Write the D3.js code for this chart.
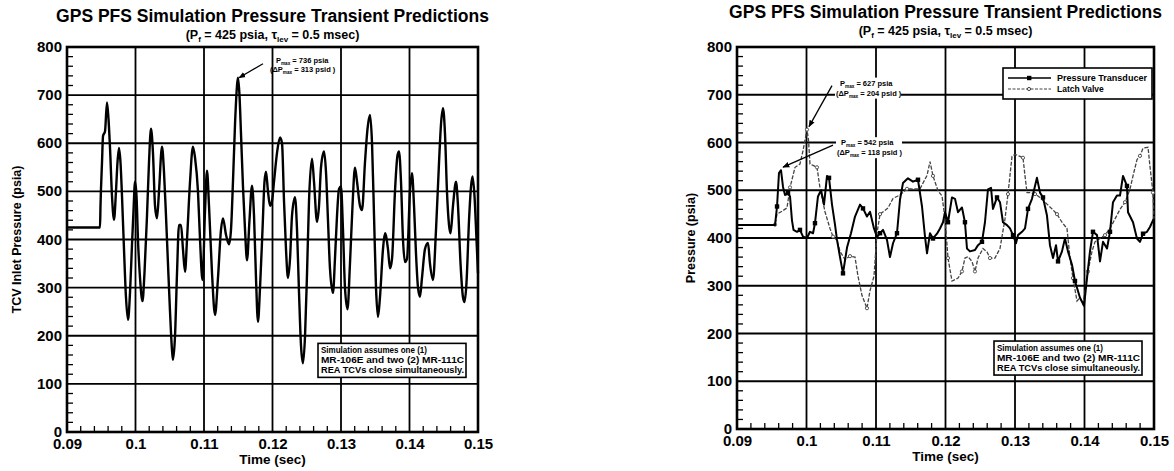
<!DOCTYPE html>
<html lang="en">
<head>
<meta charset="utf-8">
<script src="https://cdn.jsdelivr.net/npm/d3@7/dist/d3.min.js"></script>
<style>
body { margin: 0; background: #fff; }
svg text { font-family: "Liberation Sans", Arial, Helvetica, sans-serif; font-weight: bold; fill: #000; }
</style>
</head>
<body>
<script>

// shared axes
var xTicks = [0.09, 0.10, 0.11, 0.12, 0.13, 0.14, 0.15];
var xTickLabels = ["0.09", "0.1", "0.11", "0.12", "0.13", "0.14", "0.15"];
var yTicks = [0, 100, 200, 300, 400, 500, 600, 700, 800];

// left chart: simulated TCV inlet pressure (sec, psia)
var simTime = [
  0.09000, 0.09482, 0.09489, 0.09511, 0.09526, 0.09555, 0.09584, 0.09606, 0.09628, 0.09657,
  0.09686, 0.09715, 0.09737, 0.09759, 0.09781, 0.09803, 0.09832, 0.09861, 0.09891, 0.09920,
  0.09949, 0.09971, 0.09993, 0.10015, 0.10036, 0.10066, 0.10102, 0.10131, 0.10168, 0.10197,
  0.10226, 0.10255, 0.10285, 0.10314, 0.10343, 0.10387, 0.10416, 0.10445, 0.10474, 0.10504,
  0.10533, 0.10547, 0.10577, 0.10606, 0.10635, 0.10664, 0.10693, 0.10723, 0.10752, 0.10796,
  0.10839, 0.10869, 0.10912, 0.10942, 0.10978, 0.11015, 0.11044, 0.11073, 0.11117, 0.11161,
  0.11204, 0.11248, 0.11277, 0.11321, 0.11365, 0.11394, 0.11423, 0.11453, 0.11482, 0.11496,
  0.11518, 0.11540, 0.11569, 0.11599, 0.11628, 0.11664, 0.11701, 0.11730, 0.11759, 0.11788,
  0.11818, 0.11854, 0.11883, 0.11905, 0.11934, 0.11964, 0.11993, 0.12022, 0.12066, 0.12110,
  0.12139, 0.12168, 0.12197, 0.12226, 0.12256, 0.12285, 0.12329, 0.12358, 0.12387, 0.12416,
  0.12445, 0.12475, 0.12504, 0.12533, 0.12577, 0.12606, 0.12650, 0.12679, 0.12708, 0.12752,
  0.12781, 0.12810, 0.12839, 0.12883, 0.12912, 0.12942, 0.12971, 0.13000, 0.13029, 0.13058,
  0.13095, 0.13131, 0.13168, 0.13204, 0.13234, 0.13277, 0.13307, 0.13350, 0.13387, 0.13423,
  0.13453, 0.13482, 0.13511, 0.13540, 0.13569, 0.13613, 0.13642, 0.13686, 0.13715, 0.13745,
  0.13788, 0.13825, 0.13847, 0.13876, 0.13905, 0.13934, 0.13964, 0.14007, 0.14036, 0.14066,
  0.14095, 0.14124, 0.14153, 0.14182, 0.14226, 0.14270, 0.14299, 0.14343, 0.14387, 0.14431,
  0.14460, 0.14489, 0.14518, 0.14547, 0.14577, 0.14599, 0.14635, 0.14679, 0.14708, 0.14745,
  0.14781, 0.14803, 0.14832, 0.14869, 0.14898, 0.14920, 0.14949, 0.14978, 0.15000
];
var simPressure = [
  425, 425, 470, 560, 615, 625, 685, 650, 590, 490,
  441, 500, 560, 590, 560, 490, 380, 280, 233, 290,
  390, 460, 520, 490, 400, 320, 272, 330, 450, 560,
  630, 580, 470, 444, 500, 593, 540, 450, 350, 250,
  170, 150, 200, 330, 430, 430, 380, 333, 400, 520,
  593, 570, 500, 400, 316, 460, 543, 470, 330, 243,
  320, 420, 444, 410, 390, 420, 520, 640, 720, 736,
  700, 620, 510, 420, 357, 440, 512, 450, 320, 229,
  300, 420, 520, 541, 500, 470, 480, 520, 580, 612,
  600, 480, 380, 320, 360, 450, 488, 420, 290, 180,
  143, 200, 330, 480, 568, 520, 437, 470, 550, 583,
  540, 440, 340, 289, 360, 450, 505, 510, 420, 300,
  255, 350, 470, 549, 520, 470, 461, 560, 630, 659,
  600, 450, 300, 239, 280, 380, 413, 380, 340, 360,
  500, 575, 583, 520, 400, 353, 360, 500, 538, 470,
  370, 300, 281, 320, 380, 393, 350, 316, 420, 560,
  640, 673, 620, 500, 430, 413, 470, 520, 470, 350,
  280, 270, 310, 440, 510, 531, 490, 400, 330
];

// right chart: pressure transducer
var ptTime = [
  0.09000, 0.09547, 0.09576, 0.09604, 0.09633, 0.09662, 0.09691, 0.09734, 0.09763, 0.09791,
  0.09813, 0.09863, 0.09906, 0.09950, 0.10007, 0.10050, 0.10094, 0.10122, 0.10165, 0.10209,
  0.10252, 0.10295, 0.10324, 0.10367, 0.10410, 0.10439, 0.10482, 0.10525, 0.10583, 0.10640,
  0.10698, 0.10770, 0.10813, 0.10870, 0.10914, 0.10971, 0.11014, 0.11058, 0.11101, 0.11158,
  0.11201, 0.11245, 0.11302, 0.11345, 0.11388, 0.11460, 0.11532, 0.11604, 0.11662, 0.11705,
  0.11734, 0.11777, 0.11820, 0.11878, 0.11921, 0.11964, 0.11993, 0.12036, 0.12093, 0.12137,
  0.12180, 0.12237, 0.12280, 0.12309, 0.12352, 0.12424, 0.12468, 0.12525, 0.12568, 0.12611,
  0.12655, 0.12683, 0.12741, 0.12784, 0.12827, 0.12885, 0.12928, 0.12971, 0.13014, 0.13043,
  0.13101, 0.13144, 0.13187, 0.13244, 0.13288, 0.13316, 0.13360, 0.13403, 0.13460, 0.13503,
  0.13547, 0.13590, 0.13619, 0.13676, 0.13719, 0.13762, 0.13820, 0.13863, 0.13935, 0.13993,
  0.14036, 0.14079, 0.14122, 0.14180, 0.14223, 0.14266, 0.14324, 0.14367, 0.14410, 0.14467,
  0.14511, 0.14554, 0.14611, 0.14626, 0.14698, 0.14755, 0.14798, 0.14842, 0.14899, 0.14942,
  0.14985, 0.15000
];
var ptPressure = [
  427, 427, 466, 536, 542, 507, 490, 494, 487, 437,
  417, 413, 417, 403, 400, 413, 410, 431, 487, 500,
  470, 530, 526, 470, 428, 396, 360, 326, 380, 410,
  445, 470, 462, 445, 455, 420, 402, 410, 417, 396,
  360, 389, 410, 480, 515, 525, 518, 522, 466, 403,
  368, 410, 399, 409, 420, 433, 454, 433, 485, 482,
  454, 464, 433, 378, 372, 375, 385, 392, 433, 502,
  505, 461, 485, 475, 433, 427, 420, 406, 389, 406,
  413, 420, 461, 482, 509, 526, 495, 485, 447, 385,
  358, 385, 351, 372, 399, 372, 344, 310, 275, 258,
  316, 372, 413, 406, 351, 392, 378, 413, 475, 489,
  489, 530, 509, 454, 433, 399, 392, 409, 413, 423,
  437, 440
];

// right chart: latch valve
var lvTime = [
  0.09000, 0.09547, 0.09576, 0.09647, 0.09719, 0.09763, 0.09835, 0.09906, 0.09950, 0.10007,
  0.10029, 0.10050, 0.10094, 0.10151, 0.10194, 0.10266, 0.10338, 0.10381, 0.10439, 0.10482,
  0.10554, 0.10626, 0.10698, 0.10741, 0.10798, 0.10870, 0.10914, 0.10971, 0.11014, 0.11058,
  0.11173, 0.11245, 0.11345, 0.11446, 0.11633, 0.11734, 0.11777, 0.11820, 0.11892, 0.11950,
  0.11993, 0.12036, 0.12093, 0.12137, 0.12180, 0.12237, 0.12280, 0.12324, 0.12381, 0.12424,
  0.12468, 0.12539, 0.12597, 0.12640, 0.12712, 0.12784, 0.12856, 0.12899, 0.12957, 0.13000,
  0.13072, 0.13115, 0.13144, 0.13173, 0.13216, 0.13288, 0.13360, 0.13460, 0.13532, 0.13604,
  0.13676, 0.13748, 0.13791, 0.13834, 0.13892, 0.13935, 0.13978, 0.14050, 0.14108, 0.14151,
  0.14223, 0.14295, 0.14367, 0.14439, 0.14511, 0.14583, 0.14654, 0.14698, 0.14755, 0.14798,
  0.14842, 0.14914, 0.14942, 0.14985, 0.15000
];
var lvPressure = [
  428, 428, 450, 456, 463, 506, 548, 555, 583, 627,
  605, 555, 552, 548, 505, 455, 420, 403, 395, 372,
  355, 362, 360, 320, 280, 253, 290, 320, 410, 450,
  463, 483, 490, 503, 503, 531, 560, 530, 499, 488,
  440, 358, 310, 313, 316, 330, 358, 361, 351, 330,
  358, 378, 371, 358, 358, 378, 440, 492, 571, 575,
  571, 568, 530, 495, 495, 492, 485, 471, 461, 450,
  433, 420, 358, 316, 268, 275, 262, 330, 372, 392,
  399, 406, 420, 440, 460, 475, 502, 530, 564, 572,
  588, 590, 550, 495, 440
];

var noteLines = ["Simulation assumes one (1)", "MR-106E and two (2) MR-111C", "REA TCVs close simultaneously."];

var width = 1174, height = 471;
var svg = d3.select("body").append("svg").attr("width", width).attr("height", height);

svg.append("defs").append("marker")
  .attr("id", "arrow").attr("viewBox", "0 0 10 10").attr("refX", 9).attr("refY", 5)
  .attr("markerWidth", 7).attr("markerHeight", 7).attr("orient", "auto-start-reverse")
  .attr("markerUnits", "userSpaceOnUse")
  .append("path").attr("d", "M0,1 L10,5 L0,9 z").attr("fill", "#000");

// text with "max"-style subscripts: parts = [[text, isSub, dy], ...]
function richText(g, x, y, size, parts) {
  var t = g.append("text").attr("x", x).attr("y", y).style("font-size", size + "px");
  parts.forEach(function(p) {
    var s = t.append("tspan").text(p[0]);
    if (p[1]) s.style("font-size", (size * 0.62) + "px").attr("dy", size * 0.3);
    else s.attr("dy", p[2] || 0);
  });
  return t;
}

function drawPanel(p) {
  var x = d3.scaleLinear().domain([xTicks[0], xTicks[xTicks.length - 1]]).range([p.left, p.right]);
  var y = d3.scaleLinear().domain([yTicks[0], yTicks[yTicks.length - 1]]).range([p.bottom, p.top]);
  var g = svg.append("g");
  var cx = (p.left + p.right) / 2;

  // titles
  g.append("text").attr("x", cx).attr("y", p.titleY).attr("text-anchor", "middle")
    .style("font-size", "17.5px").text("GPS PFS Simulation Pressure Transient Predictions");
  var sub = g.append("text").attr("x", cx).attr("y", p.titleY + 17).attr("text-anchor", "middle")
    .style("font-size", "12.5px");
  sub.append("tspan").text("(P");
  sub.append("tspan").text("f").style("font-size", "8px").attr("dy", 3);
  sub.append("tspan").text(" = 425 psia, \u03c4").attr("dy", -3);
  sub.append("tspan").text("lev").style("font-size", "8px").attr("dy", 3);
  sub.append("tspan").text(" = 0.5 msec)").attr("dy", -3);

  // grid
  g.selectAll(".gx").data(xTicks).enter().append("line")
    .attr("x1", d => x(d)).attr("x2", d => x(d)).attr("y1", p.top).attr("y2", p.bottom)
    .attr("stroke", "#000").attr("stroke-width", 1.8);
  g.selectAll(".gy").data(yTicks).enter().append("line")
    .attr("x1", p.left).attr("x2", p.right).attr("y1", d => y(d)).attr("y2", d => y(d))
    .attr("stroke", "#000").attr("stroke-width", 1.8);

  // minor ticks on left and bottom
  var xMinor = x.ticks(30).filter(d => Math.abs(d * 100 - Math.round(d * 100)) > 1e-6);
  var yMinor = y.ticks(40).filter(d => d % 100 !== 0);
  g.selectAll(".mx").data(xMinor).enter().append("line")
    .attr("x1", d => x(d)).attr("x2", d => x(d)).attr("y1", p.bottom).attr("y2", p.bottom - 6)
    .attr("stroke", "#000").attr("stroke-width", 1.3);
  g.selectAll(".my").data(yMinor).enter().append("line")
    .attr("x1", p.left).attr("x2", p.left + 6).attr("y1", d => y(d)).attr("y2", d => y(d))
    .attr("stroke", "#000").attr("stroke-width", 1.3);

  // tick labels
  var ax = g.append("g").attr("transform", "translate(0," + p.bottom + ")")
    .call(d3.axisBottom(x).tickValues(xTicks).tickSize(0).tickPadding(6)
      .tickFormat((d, i) => xTickLabels[i]));
  var ay = g.append("g").attr("transform", "translate(" + p.left + ",0)")
    .call(d3.axisLeft(y).tickValues(yTicks).tickSize(0).tickPadding(5));
  [ax, ay].forEach(function(a) {
    a.select(".domain").remove();
    a.attr("font-family", null).attr("font-size", null);
    a.selectAll("text").style("font-size", "15px").attr("fill", "#000");
  });
  ay.selectAll("text").attr("dy", "0.3em");

  g.append("text").attr("x", cx).attr("y", p.bottom + 32).attr("text-anchor", "middle")
    .style("font-size", "13.5px").text("Time (sec)");
  g.append("text").attr("transform", "translate(" + p.yLabelX + "," + ((p.top + p.bottom) / 2) + ") rotate(-90)")
    .attr("text-anchor", "middle").style("font-size", "12.5px").text(p.yLabel);

  // frame
  g.append("rect").attr("x", p.left).attr("y", p.top)
    .attr("width", p.right - p.left).attr("height", p.bottom - p.top)
    .attr("fill", "none").attr("stroke", "#000").attr("stroke-width", 2.6);

  // note box
  var nb = g.append("g");
  nb.append("rect").attr("x", p.noteX).attr("y", y(180) - 2)
    .attr("width", 148).attr("height", 34).attr("fill", "#fff")
    .attr("stroke", "#000").attr("stroke-width", 1.6);
  nb.selectAll("text").data(noteLines).enter().append("text")
    .attr("x", p.noteX + 3).attr("y", (d, i) => y(180) + 8 + i * 10)
    .attr("textLength", (d, i) => [106, 143, 143][i]).attr("lengthAdjust", "spacingAndGlyphs")
    .style("font-size", "9.5px").text(d => d);

  return { g: g, x: x, y: y };
}

// ---------- left panel ----------
var L = drawPanel({ left: 67, right: 478, top: 47, bottom: 432, titleY: 22, yLabelX: 21,
  yLabel: "TCV Inlet Pressure (psia)", noteX: 318 });

var simLine = d3.line().curve(d3.curveMonotoneX).x(d => L.x(d[0])).y(d => L.y(d[1]));
L.g.append("path").datum(d3.zip(simTime, simPressure)).attr("d", simLine)
  .attr("fill", "none").attr("stroke", "#000").attr("stroke-width", 2.4).attr("stroke-linejoin", "round");

// peak note
var simPeak = d3.greatestIndex(simPressure);
var spx = L.x(simTime[simPeak]), spy = L.y(simPressure[simPeak]);
L.g.append("line").attr("x1", spx + 25).attr("y1", spy - 14).attr("x2", spx + 1).attr("y2", spy)
  .attr("stroke", "#000").attr("stroke-width", 1.3).attr("marker-end", "url(#arrow)");
richText(L.g, spx + 38, spy - 15, 7.5, [["P"], ["max", true], [" = " + simPressure[simPeak] + " psia", false, -2.3]]);
richText(L.g, spx + 32, spy - 6, 7.5, [["(\u0394P"], ["max", true], [" = " + (simPressure[simPeak] - 423) + " psid )", false, -2.3]]);

// ---------- right panel ----------
var R = drawPanel({ left: 737, right: 1154, top: 47, bottom: 429, titleY: 18, yLabelX: 695,
  yLabel: "Pressure (psia)", noteX: 994 });

var ptData = d3.zip(ptTime, ptPressure), lvData = d3.zip(lvTime, lvPressure);
var rLine = d3.line().x(d => R.x(d[0])).y(d => R.y(d[1]));

R.g.append("path").datum(lvData).attr("d", rLine)
  .attr("fill", "none").attr("stroke", "#444").attr("stroke-width", 1.3).attr("stroke-dasharray", "4,1.6");
R.g.selectAll(".lvm").data(lvData.filter((d, i) => i % 4 === 1)).enter().append("circle")
  .attr("cx", d => R.x(d[0])).attr("cy", d => R.y(d[1])).attr("r", 1.6)
  .attr("fill", "#fff").attr("stroke", "#444").attr("stroke-width", 0.9);

R.g.append("path").datum(ptData).attr("d", rLine)
  .attr("fill", "none").attr("stroke", "#000").attr("stroke-width", 2).attr("stroke-linejoin", "round");
R.g.selectAll(".ptm").data(ptData.filter((d, i) => i % 5 === 2)).enter().append("rect")
  .attr("x", d => R.x(d[0]) - 2.2).attr("y", d => R.y(d[1]) - 2.2).attr("width", 4.4).attr("height", 4.4)
  .attr("fill", "#000");

// peak notes for both series
function peakNote(t, v, dx, dy, delta) {
  var px = R.x(t), py = R.y(v);
  var tx = px + dx, ty = py + dy;
  R.g.append("rect").attr("x", tx + 3).attr("y", ty - 9).attr("width", 66).attr("height", 21).attr("fill", "#fff");
  R.g.append("line").attr("x1", tx).attr("y1", ty - 1).attr("x2", px + 2).attr("y2", py - 3)
    .attr("stroke", "#000").attr("stroke-width", 1.3).attr("marker-end", "url(#arrow)");
  richText(R.g, tx + 8, ty - 1, 7.5, [["P"], ["max", true], [" = " + v + " psia", false, -2.3]]);
  richText(R.g, tx + 4, ty + 9, 7.5, [["(\u0394P"], ["max", true], [" = " + delta + " psid )", false, -2.3]]);
}
var lvPeak = d3.greatestIndex(lvPressure), ptPeak = d3.greatestIndex(ptPressure);
peakNote(lvTime[lvPeak], lvPressure[lvPeak], 25, -43, 204);
peakNote(ptTime[ptPeak], ptPressure[ptPeak], 52, -24, 118);

// legend
var lg = R.g.append("g").attr("transform", "translate(1003,68)");
lg.append("rect").attr("width", 149).attr("height", 31).attr("fill", "#fff")
  .attr("stroke", "#000").attr("stroke-width", 1.6);
lg.append("line").attr("x1", 5).attr("x2", 48).attr("y1", 10).attr("y2", 10)
  .attr("stroke", "#000").attr("stroke-width", 1.6);
lg.append("rect").attr("x", 24).attr("y", 7.8).attr("width", 4.4).attr("height", 4.4).attr("fill", "#000");
lg.append("line").attr("x1", 5).attr("x2", 48).attr("y1", 21).attr("y2", 21)
  .attr("stroke", "#444").attr("stroke-width", 1.1).attr("stroke-dasharray", "3,1.5");
lg.append("circle").attr("cx", 26).attr("cy", 21).attr("r", 1.6).attr("fill", "#fff").attr("stroke", "#444");
lg.append("text").attr("x", 54).attr("y", 13).style("font-size", "8.5px")
  .attr("textLength", 90).attr("lengthAdjust", "spacingAndGlyphs").text("Pressure Transducer");
lg.append("text").attr("x", 54).attr("y", 24).style("font-size", "8.5px").text("Latch Valve");

</script>
</body>
</html>
